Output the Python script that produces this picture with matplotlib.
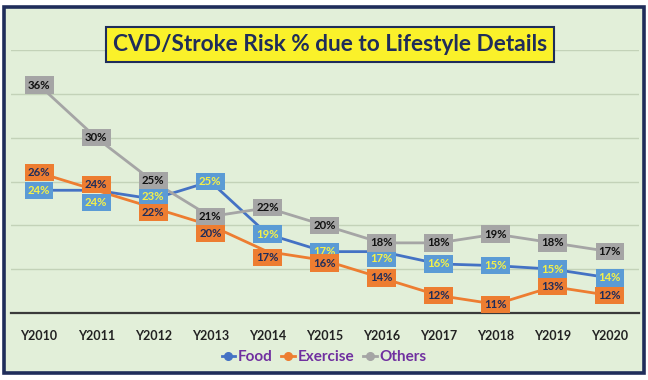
import matplotlib
matplotlib.use("Agg")
import matplotlib.pyplot as plt
from matplotlib.patches import Rectangle
from matplotlib.lines import Line2D

years = ["Y2010", "Y2011", "Y2012", "Y2013", "Y2014", "Y2015",
         "Y2016", "Y2017", "Y2018", "Y2019", "Y2020"]
food = [24, 24, 23, 25, 19, 17, 17, 15.6, 15.4, 15, 14]
exercise = [26, 24, 22, 20, 17, 16, 14, 12, 11, 13, 12]
others = [36, 30, 25, 21, 22, 20, 18, 18, 19, 18, 17]

title = "CVD/Stroke Risk % due to Lifestyle Details"
FONT = ["Lato", "DejaVu Sans"]

fig = plt.figure(figsize=(6.48, 3.8), dpi=100)
fig.patch.set_facecolor("white")
# outer chart frame
fig.patches.append(Rectangle((4/648, 1-373/380), 640/648, 366/380,
                             transform=fig.transFigure, facecolor="#E2EFD9",
                             edgecolor="#1F2D5A", linewidth=2.6, zorder=-10))

ax = fig.add_axes([10.5/648, 1-313/380, 628/648, 263/380])
ax.set_facecolor("none")
x = list(range(len(years)))
ax.set_xlim(-0.5, len(years)-0.5)
ax.set_ylim(10, 40)
ax.set_yticks([15, 20, 25, 30, 35, 40])
ax.yaxis.grid(True, color="#C3D2B8", linewidth=1.0)
ax.set_axisbelow(True)
ax.tick_params(axis="y", left=False, labelleft=False)
ax.tick_params(axis="x", bottom=False, pad=9)
ax.set_xticks(x)
ax.set_xticklabels(years, fontfamily=FONT, fontweight="bold", fontsize=9, color="#222222")
for s in ["top", "left", "right"]:
    ax.spines[s].set_visible(False)
ax.spines["bottom"].set_color("#3A3A3A")
ax.spines["bottom"].set_linewidth(1.6)

series = [
    ("Food", food, "#4472C4", "#5B9BD5", "#F4F04A"),
    ("Exercise", exercise, "#ED7D31", "#ED7D31", "#1F2D5A"),
    ("Others", others, "#A5A5A5", "#A5A5A5", "#111111"),
]
# label offsets in points (to avoid overlaps, as in the original)
offsets = {
    "Food": [0, -9, 1.5, 0, 0, 0, -5, 0, 0, 0, 0],
    "Exercise": [0, 4, -3.5, -6, -4, -2, 0, 0, 0, 0, 0],
    "Others": [0, 0, 0.5, 0, 0, 0, 0, 0, 0, 0, 0],
}
for name, vals, lc, bc, tc in series:
    ax.plot(x, vals, color=lc, linewidth=2, zorder=3)
for name, vals, lc, bc, tc in series:
    for xi, v, dy in zip(x, vals, offsets[name]):
        ax.annotate(f"{v:.0f}%", (xi, v), xytext=(0, dy), textcoords="offset points",
                    ha="center", va="center", fontsize=8.2, fontweight="bold",
                    fontfamily=FONT, color=tc, zorder=5,
                    bbox=dict(boxstyle="square,pad=0.28", facecolor=bc,
                              edgecolor="none"))

fig.text(330/648, 1-44.5/380, title, ha="center", va="center", fontsize=16.3,
         fontweight="bold", fontfamily=FONT, color="#1F2D5A",
         bbox=dict(boxstyle="square,pad=0.3", facecolor="#FAF12A",
                   edgecolor="#1F2D5A", linewidth=1.5))

handles = [Line2D([0], [0], color=lc, lw=2, marker="o", markersize=5.5)
           for _, _, lc, _, _ in series]
leg = fig.legend(handles, [s[0] for s in series], loc="center",
                 bbox_to_anchor=(324/648, 1-357/380), ncol=3, frameon=False,
                 handlelength=0.9, handletextpad=0.15, columnspacing=0.6,
                 prop={"family": FONT, "weight": "bold", "size": 11})
for t in leg.get_texts():
    t.set_color("#7030A0")

fig.savefig("out.png", dpi=100)
